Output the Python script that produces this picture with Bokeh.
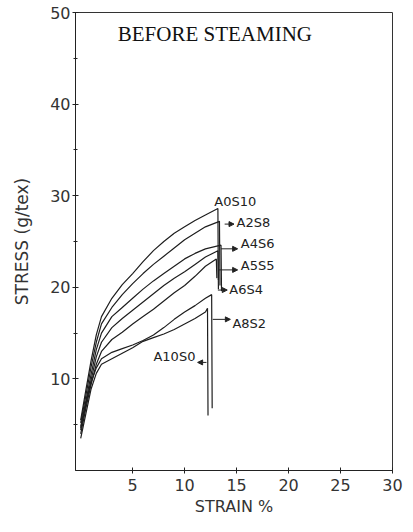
from bokeh.plotting import figure
from bokeh.models import Range1d, FixedTicker, Label, Arrow, NormalHead, ColumnDataSource, Title
from bokeh.core.properties import value
from bokeh.embed import file_html
from bokeh.resources import INLINE

# ---- data ----
strain = [0, 0.5, 1, 1.5, 2, 3, 4, 5, 6, 7, 8, 9, 10, 11, 12]

names = ["A0S10", "A2S8", "A4S6", "A5S5", "A6S4", "A8S2", "A10S0"]

A0S10 = [5.5, 8.8, 12.0, 14.8, 16.8, 18.8, 20.3, 21.5, 22.8, 24.0, 25.0, 25.9, 26.6, 27.3, 27.9]
A2S8 = [5.2, 8.2, 11.3, 14.0, 16.0, 17.8, 19.2, 20.4, 21.5, 22.5, 23.4, 24.3, 25.2, 25.9, 26.6]
A4S6 = [4.8, 7.6, 10.5, 13.2, 15.0, 16.8, 17.8, 18.8, 19.8, 20.7, 21.5, 22.3, 23.1, 23.7, 24.2]
A5S5 = [4.4, 7.2, 9.9, 12.4, 14.0, 15.6, 16.6, 17.5, 18.4, 19.3, 20.2, 21.0, 21.7, 22.5, 23.3]
A6S4 = [4.0, 6.8, 9.4, 11.6, 13.0, 14.3, 15.1, 16.0, 16.8, 17.6, 18.5, 19.4, 20.2, 21.2, 22.3]
A8S2 = [4.6, 7.4, 9.6, 11.2, 12.2, 12.9, 13.3, 13.7, 14.2, 14.8, 15.6, 16.5, 17.3, 18.0, 18.8]
A10S0 = [3.5, 6.2, 8.9, 10.6, 11.6, 12.2, 12.8, 13.4, 14.1, 14.5, 14.9, 15.4, 16.0, 16.6, 17.3]

# breaking point (strain, stress) and stress reached after the break
break_strain = [13.2, 13.35, 13.5, 13.2, 13.05, 12.6, 12.2]
break_stress = [28.6, 27.2, 24.6, 24.0, 23.1, 19.2, 17.7]
after_break_stress = [19.8, 20.2, 19.6, 20.8, 21.0, 6.8, 6.0]

series = [A0S10, A2S8, A4S6, A5S5, A6S4, A8S2, A10S0]

# curve labels and their pointers
label_x = [12.85, 15.0, 15.4, 15.4, 14.3, 14.6, 7.0]
label_y = [29.4, 27.1, 24.8, 22.4, 19.8, 16.1, 12.5]
ptr_x0 = [None, 13.85, 13.5, 13.3, 13.2, 12.7, 12.1]
ptr_x1 = [None, 14.75, 15.1, 15.1, 14.1, 14.4, 11.25]
ptr_y = [None, 26.9, 24.2, 21.9, 19.7, 16.5, 11.8]

x_ticks = [5, 10, 15, 20, 25, 30]
y_ticks = [10, 20, 30, 40, 50]
y_minor = [5, 15, 25, 35, 45]

# ---- figure ----
p = figure(width=405, height=516, output_backend="svg", toolbar_location=None,
           x_range=Range1d(-0.5, 30), y_range=Range1d(0, 50),
           min_border_left=75, min_border_right=13, min_border_top=12, min_border_bottom=10)
p.xgrid.visible = False
p.ygrid.visible = False
p.outline_line_color = "#333333"
p.outline_line_width = 1
p.background_fill_color = "white"
p.border_fill_color = "white"

tick_font = "DejaVu Sans"
for ax in (p.xaxis[0], p.yaxis[0]):
    ax.axis_line_color = "#222222"
    ax.major_tick_line_color = "#222222"
    ax.minor_tick_line_color = "#222222"
    ax.major_label_text_font = tick_font
    ax.major_label_text_font_size = "16px"
    ax.major_label_text_color = "#333333"
    ax.major_tick_in = 3
    ax.major_tick_out = 3

p.xaxis[0].ticker = FixedTicker(ticks=x_ticks, minor_ticks=[])
p.yaxis[0].ticker = FixedTicker(ticks=y_ticks, minor_ticks=y_minor)
p.yaxis[0].minor_tick_in = 2
p.yaxis[0].minor_tick_out = 2
p.yaxis[0].major_label_standoff = 2
p.xaxis[0].major_label_standoff = 5

# y axis title
p.yaxis[0].axis_label = "STRESS (g/tex)"
p.yaxis[0].axis_label_text_font = "DejaVu Sans"
p.yaxis[0].axis_label_text_font_size = "17px"
p.yaxis[0].axis_label_text_font_style = "normal"
p.yaxis[0].axis_label_text_color = "#333333"
p.yaxis[0].axis_label_standoff = 15

# x axis title, below the axis, a little left of centre
p.add_layout(Title(text="STRAIN %", align="center", offset=-24, standoff=2,
                   text_font="DejaVu Sans", text_font_size="16px",
                   text_font_style="normal", text_color="#333333"), "below")

# curves
for vals, bx, by, ay in zip(series, break_strain, break_stress, after_break_stress):
    xs = list(strain) + [bx, bx + 0.05]
    ys = list(vals) + [by, ay]
    p.line(xs, ys, line_color="#1e1e1e", line_width=1.2)

# curve labels
lab_src = ColumnDataSource(dict(x=label_x, y=label_y, t=names))
p.text(x="x", y="y", text="t", source=lab_src, text_font=value("DejaVu Sans"),
       text_font_size="13px", text_color="#222222", text_baseline="middle", text_align="left")

for x0, x1, yy in zip(ptr_x0, ptr_x1, ptr_y):
    if x0 is None:
        continue
    p.add_layout(Arrow(end=NormalHead(size=5, fill_color="#222222", line_color="#222222", line_width=1),
                       x_start=x0, y_start=yy, x_end=x1, y_end=yy,
                       line_color="#222222", line_width=1))

# title inside the plot
p.add_layout(Label(x=3.56, y=47.6, text="BEFORE STEAMING", text_font="Liberation Serif",
                   text_font_size="21px", text_color="#111111", text_baseline="middle",
                   text_align="left"))

open("out.html", "w").write(file_html(p, INLINE))
